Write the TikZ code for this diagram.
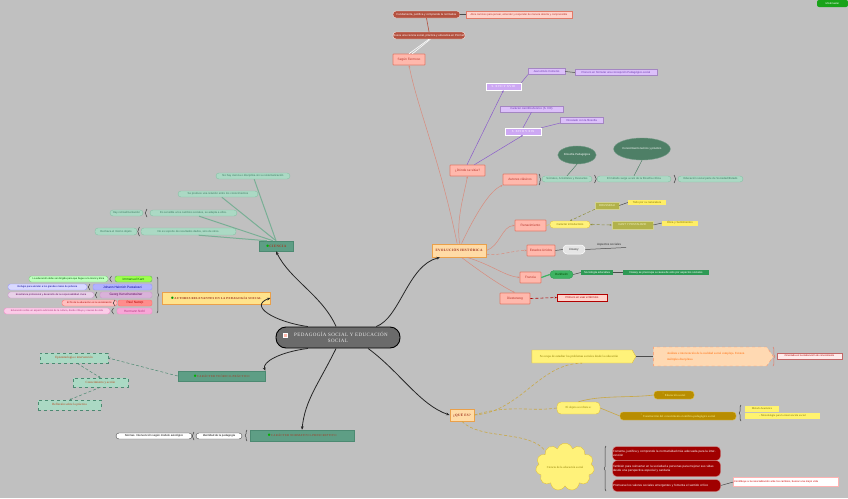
\documentclass[tikz,border=0pt]{standalone}
\usepackage{fontspec}
\setmainfont{Liberation Serif}
\setsansfont{Liberation Sans}
\newfontfamily\brfont[LetterSpace=10]{Liberation Serif}
\newfontfamily\cenfont[LetterSpace=8]{Liberation Serif}
\usetikzlibrary{shapes.geometric,shapes.symbols,shapes.arrows,decorations.pathreplacing,arrows.meta}
\newcommand\myfs[1]{\fontsize{#1}{\dimexpr #1pt*5/4\relax}\selectfont}
\definecolor{bg}{HTML}{C0C0C0}
\definecolor{cenF}{HTML}{6B6B6B}
\definecolor{salmF}{HTML}{FFB8AC}
\definecolor{salmD}{HTML}{E27A68}
\definecolor{salmT}{HTML}{B8342A}
\definecolor{salmL}{HTML}{D98B7C}
\definecolor{orgF}{HTML}{FFDBA6}
\definecolor{orgD}{HTML}{EAA04A}
\definecolor{orgT}{HTML}{9A2A18}
\definecolor{yelF}{HTML}{FFE38C}
\definecolor{tealF}{HTML}{5E9E85}
\definecolor{tealD}{HTML}{4C8A72}
\definecolor{tealT}{HTML}{A8341E}
\definecolor{paleF}{HTML}{ABD9C4}
\definecolor{paleD}{HTML}{86C2A6}
\definecolor{paleT}{HTML}{3E7C62}
\definecolor{lavF}{HTML}{CDA8F3}
\definecolor{lavtwoF}{HTML}{DCC0FA}
\definecolor{lavT}{HTML}{6A3AB0}
\definecolor{lavL}{HTML}{8B5DCB}
\definecolor{dgF}{HTML}{4E7F66}
\definecolor{brF}{HTML}{B4513F}
\definecolor{pinkF}{HTML}{FFD3CB}
\definecolor{olF}{HTML}{B2B24A}
\definecolor{olT}{HTML}{F4F4C8}
\definecolor{yeltwo}{HTML}{FFEE66}
\definecolor{yelT}{HTML}{8A7A00}
\definecolor{gF}{HTML}{3EB362}
\definecolor{gtwoF}{HTML}{2E9A55}
\definecolor{rF}{HTML}{A00000}
\definecolor{goldF}{HTML}{B88D00}
\definecolor{ylw}{HTML}{FFF27A}
\definecolor{ylwD}{HTML}{E0C040}
\definecolor{ylwL}{HTML}{C9A846}
\begin{document}
\begin{tikzpicture}[x=1pt,y=-1pt,
 base/.style={inner sep=0.5pt, align=center, font=\sffamily\myfs{2.8}},
 central/.style={rounded corners=10, fill=cenF, draw=black, line width=0.9, text=white!92!black, minimum width=124, minimum height=21, font=\cenfont\myfs{5}, align=center, inner sep=1pt},
 branch/.style={font=\brfont\bfseries\myfs{3.4}, inner sep=1pt, align=center},
 orgb/.style={branch, fill=orgF, draw=orgD, line width=0.9, text=orgT},
 tealb/.style={branch, fill=tealF, draw=tealD, line width=0.5, text=tealT},
 salm/.style={base, draw=salmD, fill=salmF, text=salmT, line width=0.6, rounded corners=0.6, minimum height=11, font=\sffamily\myfs{3.2}},
 brn/.style={base, fill=brF, draw=white!85!brF, line width=0.4, text=white, rounded corners=3, minimum height=7},
 pnk/.style={base, fill=pinkF, draw=salmD, line width=0.4, text=salmT, minimum height=7},
 lavs/.style={base, fill=lavF, draw=white, line width=0.5, text=white, minimum height=7, font=\brfont\myfs{3}},
 lavl/.style={base, fill=lavtwoF, draw=lavF!80!black, line width=0.3, text=lavT, minimum height=6},
 pale/.style={base, fill=paleF, draw=paleD, line width=0.4, text=paleT, rounded corners=3, minimum height=6},
 ell/.style={base, ellipse, fill=dgF, draw=dgF!80!white, text=white},
 olv/.style={base, fill=olF, draw=olF!60!white, line width=0.5, text=olT, minimum height=7},
 yl/.style={base, fill=yeltwo, text=yelT, minimum height=5},
 dashp/.style={base, fill=paleF, draw=tealD, dashed, line width=0.4, text=tealT!80!orange, font=\rmfamily\myfs{3.2}, minimum height=10},
 wnode/.style={base, fill=white, draw=black!70, line width=0.4, text=black, rounded corners=3, minimum height=6},
 gold/.style={base, fill=goldF, draw=ylwD, line width=0.4, text=yellow!40!white, rounded corners=3, minimum height=8, font=\rmfamily\myfs{3}},
 red/.style={base, fill=rF, draw=rF!40!white, line width=0.4, text=white, rounded corners=4, text width=107, align=left, font=\sffamily\myfs{3}},
 cline/.style={draw=black!85, line width=0.8, -{Stealth[length=3.5pt,width=2.8pt]}},
 sline/.style={draw=salmL, line width=0.5, -{Stealth[length=2.2pt,width=1.8pt]}},
 pline/.style={draw=lavL, line width=0.5, -{Stealth[length=2.2pt,width=1.8pt]}},
 gline/.style={draw=gray!60!black, line width=0.5},
 tline/.style={draw=paleD!90!black, line width=1},
 yline/.style={draw=ylwL, line width=0.6, densely dashed},
 brc/.style={decorate, decoration={brace, amplitude=1.8pt}, draw=gray!45!black, line width=0.5},
]
\fill[bg] (0,0) rectangle (848,498);
\useasboundingbox (0,0) rectangle (848,498);

% ---------- central
\node[central] (c) at (338,337.5) {\hspace*{6pt}PEDAGOGÍA SOCIAL Y EDUCACIÓN\\SOCIAL};
\node[base, fill=salmF, draw=white, minimum size=3.5, inner sep=0] (cicon) at (285,335) {};

% ---------- main branches
\node[orgb, minimum width=54, minimum height=13] (evo) at (459,250.5) {EVOLUCIÓN HISTÓRICA};
\node[orgb, minimum width=24, minimum height=12] (que) at (462,415) {¿QUÉ ES?};
\node[tealb, minimum width=34, minimum height=10] (cien) at (276,246) {\textcolor{green!70!black}{$\bullet$}CIENCIA};
\node[orgb, fill=yelF, minimum width=108, minimum height=12, font=\brfont\bfseries\myfs{3}] (aut) at (216,298) {\textcolor{green!60!black}{$\bullet$}AUTORES RELEVANTES EN LA PEDAGOGÍA SOCIAL};
\node[tealb, minimum width=87, minimum height=10, font=\brfont\myfs{3}] (ctp) at (221.5,376) {\textcolor{green!70!black}{$\bullet$}CARÁCTER TEÓRICO-PRÁCTICO};
\node[tealb, minimum width=104, minimum height=11, font=\brfont\myfs{3}] (cnp) at (302,435.5) {\textcolor{green!70!black}{$\bullet$}CARÁCTER NORMATIVO-PRESCRIPTIVO};

\draw[cline] (c.16) .. controls (400,318) and (408,265) .. (evo.200);
\draw[cline] (c.-20) .. controls (400,372) and (420,405) .. (que.west);
\draw[cline] (c.100) .. controls (322,295) and (290,280) .. (cien.south);
\draw[cline] (c.160) .. controls (275,322) and (248,306) .. (aut.east);
\draw[cline] (c.200) .. controls (280,352) and (262,362) .. (ctp.north east);
\draw[cline] (c.-100) .. controls (318,385) and (305,400) .. (cnp.north);

% ---------- Evolución histórica
\node[salm, minimum width=32] (fer) at (409,59.5) {Según Fermoso};
\node[salm, minimum width=35] (donde) at (467.5,170.5) {¿Dónde se sitúa?};
\node[salm, minimum width=34] (acl) at (520,179.5) {Autores clásicos};
\node[salm, minimum width=31] (ren) at (530.5,225.5) {Renacimiento};
\node[salm, minimum width=28] (eeuu) at (541,250.5) {Estados Unidos};
\node[salm, minimum width=21] (fra) at (530.5,277.5) {Francia};
\node[salm, minimum width=30] (die) at (515,298.5) {Diesterweg};

\draw[sline] (evo.105) .. controls (440,160) and (418,110) .. (fer.south);
\draw[sline] (evo.85) .. controls (456,220) and (464,195) .. (donde.south);
\draw[sline] (evo.70) .. controls (475,215) and (490,190) .. (acl.south west);
\draw[sline] (evo.east) .. controls (500,246) and (502,226) .. (ren.west);
\draw[sline, densely dashed] (evo.-8) .. controls (500,256) and (515,250) .. (eeuu.west);
\draw[sline] (evo.-40) .. controls (492,265) and (505,276) .. (fra.west);
\draw[sline] (evo.-70) .. controls (485,275) and (500,285) .. (die.north);

% Fermoso
\node[brn, minimum width=72] (busca) at (429,35.5) {Busca una ciencia social, práctica y educativa en Pormell};
\node[brn, minimum width=67] (fund) at (426.5,14.5) {Fundamenta, justifica y comprende la normativa};
\node[pnk, minimum width=106, font=\sffamily\myfs{2.6}] (abre) at (519,14.5) {Abre caminos para pensar, entender y responder de manera abierta y comprensible};
\draw[white, line width=0.6] (fer.north) -- (busca.south);
\draw[white, line width=0.6] (fer.60) -- (busca.-70);
\draw[brF, line width=0.6] (busca.north) -- (fund.south);
\draw[gline] (fund.east) -- (abre.west);

% Dónde se sitúa
\node[lavs, minimum width=35] (s17) at (503.5,86.5) {S. XVII Y XVIII};
\node[lavl, minimum width=37] (com) at (546.5,71.5) {Juan Amós Comenio};
\node[lavl, minimum width=82] (pio) at (616,72.5) {Pionero en formular una concepción Pedagógico-social};
\node[lavs, minimum width=36] (s18) at (523,131.5) {S. XVIII Y XIX};
\node[lavl, minimum width=63] (cie) at (531.5,109) {Carácter científico/teórico (S. XIX)};
\node[lavl, minimum width=43] (vin) at (581.5,120) {Vinculado con la filosofía};
\draw[pline] (donde.95) -- (s17.south);
\draw[pline] (donde.40) -- (s18.south);
\draw[lavL, line width=0.5] (s17.north east) -- (com.south west);
\draw[gline] (com.east) -- (pio.west);
\draw[lavL, line width=0.5] (s18.north) -- (cie.south);
\draw[lavL, line width=0.5] (s18.north east) -- (vin.south west);

% Autores clásicos
\node[pale, minimum width=50] (soc) at (567,179) {Sócrates, Aristóteles y Descartes};
\node[pale, minimum width=74] (met) at (634,179) {El método surge a raíz de la filosofía crítica};
\node[pale, minimum width=65] (eds) at (710.5,179) {Educación social parte de Sociedad/Estado};
\node[ell, minimum width=36, minimum height=18] (filo) at (577,155) {Filosofía Pedagógica};
\node[ell, minimum width=46, minimum height=22] (cono) at (642,149) {Conocimiento teórico y práctico};
\draw[brc] (539,174) -- (539,185);
\draw[brc] (594.5,175) -- (594.5,183);
\draw[brc] (674,175) -- (674,183);
\draw[dgF, line width=0.5] (filo.south) -- (soc.north);
\draw[dgF, line width=0.5] (cono.south) -- (met.north);

% Renacimiento
\node[base, fill=ylw, draw=ylwD, line width=0.4, text=yelT, rounded corners=3, minimum width=40, minimum height=7] (intro) at (570,224.5) {Carácter introductorio};
\node[olv, minimum width=24] (rou) at (607,205.5) {ROUSSEAU};
\node[yl, minimum width=38] (todo) at (647,202.5) {Todo por su naturaleza};
\node[olv, minimum width=41, minimum height=8] (kant) at (632.5,225) {KANT Y PESTALOZZI};
\node[yl, minimum width=36] (eti) at (680,223) {Ética y Sentimientos};
\draw[draw=ylwD, line width=0.5, densely dashed] (ren.east) -- (intro.west);
\draw[draw=olF!80!black, line width=0.5, densely dashed, -{Stealth[length=2.2pt,width=1.8pt]}] (rou.south west) -- (intro.north);
\draw[draw=olF!80!black, line width=0.5, densely dashed, {Stealth[length=2.2pt,width=1.8pt]}-{Stealth[length=2.2pt,width=1.8pt]}] (intro.east) -- (kant.west);
\draw[gline] (rou.east) -- (todo.west);
\draw[gline] (kant.east) -- (eti.west);

% Estados Unidos
\node[base, fill=gray!20, draw=white, line width=0.5, rounded corners=4, minimum width=22, minimum height=9, text=black!80, font=\sffamily\itshape\myfs{3}] (dew) at (574,249.5) {Dewey};
\node[base, text=black!80, font=\sffamily\myfs{3}] (asp) at (609,244.5) {Aspectos sociales};
\coordinate (aspE) at (626,247.5);
\draw[gline] (eeuu.east) -- (dew.west);
\draw[gline] (dew.east) -- (aspE);

% Francia
\node[base, fill=gF, draw=gtwoF, line width=0.4, rounded corners=4, minimum width=23, minimum height=8, text=black!70!green, font=\sffamily\myfs{3}] (dur) at (561.5,274.5) {Durkheim};
\node[base, fill=gtwoF, text=white, minimum width=32, minimum height=5] (soci) at (597,272.5) {Sociología educativa};
\node[base, fill=gtwoF, text=white, minimum width=86, minimum height=5] (dew2) at (666,272.5) {Dewey se preocupa a causa de esto por aspectos sociales};
\draw[gF, line width=1.2] (fra.east) -- (dur.west);
\draw[gline] (dur.east) -- (soci.west);
\draw[gline] (soci.east) -- (dew2.west);

% Diesterweg
\node[pnk, draw=red!70!black, minimum width=50, text=red!70!black] (pri) at (582,297.5) {Primero en usar el término};
\draw[red!70!black, line width=0.6, densely dashed, -{Stealth[length=2.2pt,width=1.8pt]}] (die.east) -- (pri.west);

% ---------- Ciencia
\node[pale, minimum width=74] (n1) at (253,176) {No hay ciencia o disciplina sin su sistematización};
\node[pale, minimum width=80] (n2) at (218,194) {Se produce una relación entre los conocimientos};
\node[pale, minimum width=87] (n3) at (193.5,213) {Es sensible a los cambios sociales, se adapta a ellos.};
\node[pale, minimum width=33] (n3l) at (126.5,213) {Hay retroalimentación};
\node[pale, minimum width=95, minimum height=7] (n4) at (188.5,231.5) {No es soporte de resultados dados, sino de otros.};
\node[pale, minimum width=42, minimum height=7] (n4l) at (116,231.5) {Rechaza el mismo objeto};
\draw[tline] (cien.north) -- (n1.-70);
\draw[tline] (cien.north) -- (n2.-40);
\draw[tline] (cien.120) -- (n3.-30);
\draw[tline] (cien.150) -- (n4.-20);
\draw[brc] (147,217) -- (147,209);
\draw[brc] (139.5,236) -- (139.5,227);

% ---------- Autores relevantes
\node[base, fill=green!55!yellow!70!white, draw=green!50!black!60, rounded corners=2, minimum width=37, minimum height=6, text=green!40!black, font=\sffamily\myfs{3.2}] (kan) at (133.5,279) {Immanuel Kant};
\node[base, fill=blue!30!white, draw=blue!40!white, rounded corners=2, minimum width=59, minimum height=6, text=blue!60!black, font=\sffamily\myfs{3.2}] (pes) at (122.5,287) {Johann Heinrich Pestalozzi};
\node[base, fill=violet!30!white, draw=violet!40!white, rounded corners=2, minimum width=52, minimum height=6, text=violet!70!black, font=\sffamily\myfs{3.2}] (ker) at (126,295) {Georg Kerschensteiner};
\node[base, fill=red!45!white, draw=red!55!white, rounded corners=2, minimum width=34, minimum height=6, text=red!70!black, font=\sffamily\myfs{3.2}] (nat) at (135,303) {Paul Natorp};
\node[base, fill=magenta!35!white, draw=magenta!45!white, rounded corners=2, minimum width=35, minimum height=6, text=magenta!70!black, font=\sffamily\myfs{3.2}] (noh) at (134.5,311) {Hermann Nohl};
\node[base, fill=green!25!white, draw=green!60!black!50, rounded corners=2.5, minimum width=79, minimum height=6, text=green!35!black, font=\sffamily\myfs{2.5}] (kand) at (68.5,279) {La educación debe ser dirigida para que llegue a la moral y ética};
\node[base, fill=blue!15!white, draw=blue!40!white, rounded corners=2.5, minimum width=79, minimum height=6, text=blue!60!black, font=\sffamily\myfs{2.5}] (pesd) at (47.5,287) {Refugio para atender a los grandes males de pobreza};
\node[base, fill=violet!18!white, draw=violet!40!white, rounded corners=2.5, minimum width=86, minimum height=6, text=violet!70!black, font=\sffamily\myfs{2.5}] (kerd) at (51,295) {Enseñanza profesional y desarrollo de la responsabilidad cívica};
\node[base, fill=red!25!white, draw=red!55!white, rounded corners=2.5, minimum width=55, minimum height=6, text=red!70!black, font=\sffamily\myfs{2.5}] (natd) at (89.5,303) {El fin de la educación es la socialización};
\node[base, fill=magenta!20!white, draw=magenta!45!white, rounded corners=2.5, minimum width=106, minimum height=6, text=magenta!70!black, font=\sffamily\myfs{2.5}] (nohd) at (57,311) {Educación sobre un aspecto adicional de la cultura, donde influye y causas de vida};
\draw[brc] (157,277) -- (157,313);
\draw[brc] (111.5,282) -- (111.5,276);
\draw[brc] (90,290) -- (90,284);
\draw[brc] (97,298) -- (97,292);
\draw[brc] (115,306) -- (115,300);
\draw[brc] (113.5,314) -- (113.5,308);

% ---------- Carácter teórico-práctico
\node[dashp, minimum width=68] (epi) at (74,358) {Epistemología e intervención};
\node[dashp, minimum width=55, minimum height=9] (cya) at (100.5,382.5) {Conocimiento y acción};
\node[dashp, minimum width=63] (rfx) at (69.5,405) {Reflexión sobre la práctica};
\draw[tealD, line width=0.5, densely dashed, -{Stealth[length=2.2pt,width=1.8pt]}] (ctp.west) -- (epi.east);
\draw[tealD, line width=0.5, densely dashed, -{Stealth[length=2.2pt,width=1.8pt]}] (epi.-60) -- (cya.north);
\draw[tealD, line width=0.5, densely dashed, -{Stealth[length=2.2pt,width=1.8pt]}] (cya.south) -- (rfx.north);

% ---------- Carácter normativo-prescriptivo
\node[wnode, minimum width=46] (ide) at (219,436) {Identidad de la pedagogía};
\node[wnode, minimum width=76] (nor) at (154,436) {Normas. Intervención según modelo axiológico};
\draw[brc] (247,441) -- (247,430);
\draw[brc] (194,440) -- (194,432);

% ---------- ¿Qué es?
\node[base, signal, signal to=east, signal pointer angle=120, fill=ylw, draw=ylwD, line width=0.4, text=yelT, minimum width=104, minimum height=13, font=\rmfamily\myfs{3.1}] (ocu) at (582,356.5) {Se ocupa de estudiar los problemas sociales desde la educación\hspace*{6pt}};
\node[base, signal, signal to=east, signal pointer angle=110, fill=orange!30!white, draw=orange!60!red!60, dashed, line width=0.4, text=orange!80!red, minimum width=120, minimum height=19, align=left, font=\rmfamily\myfs{3.1}] (ana) at (710,356.5) {Análisis e intervención de la realidad social compleja. Existen\\[2pt]múltiples disciplinas\hspace*{60pt}};
\node[base, fill=red!8!white, draw=red!60!black!60, line width=0.4, text=red!70!black, minimum width=65, minimum height=6, font=\sffamily\myfs{2.5}] (ori) at (809.5,356) {Orientada en la elaboración de conocimiento};
\draw[gline] (ocu.east) -- (ana.west);
\draw[brc, draw=salmD] (773,347) -- (773,366);

\node[base, fill=ylw, draw=ylwD, line width=0.4, text=yelT, rounded corners=4, minimum width=43, minimum height=12, font=\rmfamily\myfs{3}] (obj) at (578.5,408) {El objeto se refiere a:};
\node[gold, minimum width=40] (eso) at (674,395) {\textsuperscript{*}\ Educación social};
\node[gold, minimum width=116] (cons) at (678,416) {\textsuperscript{*}\ Construcción del conocimiento científico-pedagógico social};
\node[base, fill=ylw!90!yellow, text=yelT!90!black, minimum width=34, minimum height=6, font=\rmfamily\myfs{2.8}] (meth) at (762,409) {Método heurístico};
\node[base, fill=ylw!90!yellow, text=yelT!90!black, minimum width=75, minimum height=6, font=\rmfamily\myfs{2.8}] (metd) at (782.5,416) {- Metodología para la intervención social};
\draw[brc] (741,421) -- (741,405);

\node[base, cloud, cloud puffs=11, aspect=1.4, fill=ylw, draw=ylwD, line width=0.4, text=yelT, minimum width=56, minimum height=40, font=\rmfamily\myfs{3}] (clo) at (565,467) {Ciencia de la educación social};
\node[red, minimum height=14] (r1) at (666.5,453.5) {Fomenta, justifica y comprende la normatividad más adecuada para la intervención};
\node[red, minimum height=16] (r2) at (666.5,468.5) {También para reinsertar en la sociedad a personas para mejorar sus vidas desde una perspectiva especial y sanitaria};
\node[red, minimum height=12] (r3) at (666.5,485.5) {Promueve los valores sociales emergentes y fomenta el sentido crítico};
\node[base, fill=white, draw=red!30, line width=0.3, text=red!80!black, text width=104, align=left, minimum height=9, font=\sffamily\myfs{2.6}] (con) at (786,482) {Contribuye a la resocialización ante los cambios, buscar una mejor vida};
\draw[gline] (r3.east) -- (con.west);
\draw[brc] (606,491) -- (606,446);

\draw[yline] (que.east) .. controls (520,412) and (540,363) .. (ocu.south);
\draw[yline] (que.east) .. controls (510,404) and (530,412) .. (obj.west);
\draw[yline] (que.south) .. controls (480,440) and (530,430) .. (clo.north west);
\draw[draw=ylwL, line width=0.6] (obj.north) .. controls (600,395) and (630,398) .. (eso.west);
\draw[draw=ylwL, line width=0.6] (obj.east) -- (cons.west);

% ---------- badge
\node[base, fill=green!60!black!90, rounded corners=2, minimum width=31, minimum height=7, text=white, font=\sffamily\myfs{2.6}] (badge) at (832.5,3.5) {Mindmaster};
\end{tikzpicture}
\end{document}
